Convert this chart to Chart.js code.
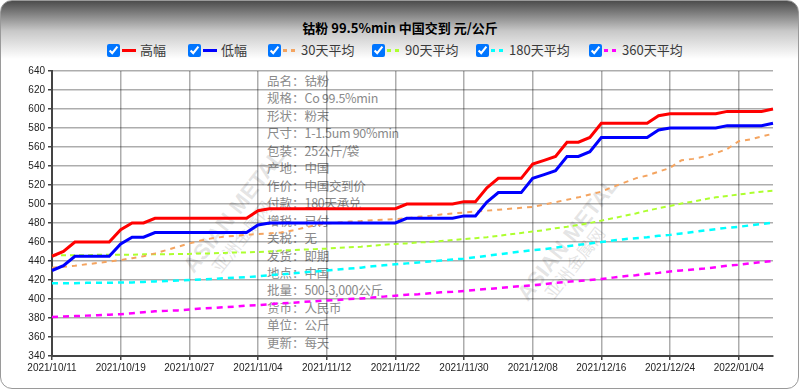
<!DOCTYPE html>
<html>
<head>
<meta charset="utf-8">
<script src="https://cdn.jsdelivr.net/npm/chart.js@4.4.1/dist/chart.umd.min.js"></script>
<style>
  html, body { margin:0; padding:0; background:#fff; }
  body { width:800px; height:390px; position:relative; overflow:hidden; font-family:"Noto Sans CJK SC", sans-serif; }
  #frame { position:absolute; left:0; top:0; width:799px; height:389px; box-sizing:border-box;
           border:1px solid #9a9a9a; border-radius:12px; overflow:hidden;
           background:linear-gradient(to bottom, #4c4c4c 0px, #c8c8c8 30px, #ffffff 58px, #ffffff 100%); }
  #title { position:absolute; left:0; width:800px; top:18px; text-align:center; font-weight:bold; font-size:13px; color:#000; line-height:20px; }
  .lg { position:absolute; top:43px; height:14px; display:flex; align-items:center; font-size:13px; color:#3a3a3a; line-height:14px; white-space:nowrap; }
  .lg input { width:13px; height:13px; margin:0 2px 0 0; accent-color:#0075ff; }
  .lg .smp { width:14px; height:3px; margin-right:4px; }
  #info { position:absolute; left:267px; top:72px; font-size:12.5px; line-height:17.45px; color:#8a8a8a; white-space:nowrap; }
  #info .v { letter-spacing:-0.3px; }
  .wm { position:absolute; color:rgba(120,120,120,0.2); font-family:"Liberation Sans", sans-serif; font-weight:bold; white-space:nowrap; transform-origin:0 0; }
  .wm2 { position:absolute; color:rgba(120,120,120,0.2); font-family:"Noto Sans CJK SC", sans-serif; white-space:nowrap; transform-origin:0 0; }
  canvas { position:absolute; left:0; top:0; }
</style>
</head>
<body>
<div id="frame"></div>
<div class="wm" style="left:178px;top:262px;font-size:22px;transform:rotate(-52deg);">ASIAN METAL</div>
<div class="wm2" style="left:205px;top:262px;font-size:17px;transform:rotate(-52deg);">亚洲金属网</div>
<div class="wm" style="left:512px;top:290px;font-size:22px;transform:rotate(-52deg);">ASIAN METAL</div>
<div class="wm2" style="left:538px;top:288px;font-size:17px;transform:rotate(-52deg);">亚洲金属网</div>
<div id="title">钴粉 99.5%min 中国交到 元/公斤</div>
<div id="legend"></div>
<div id="info"></div>
<canvas id="c" width="800" height="390"></canvas>
<script>
// ---- data ----
const dates = [
 "2021/10/11","2021/10/12","2021/10/13","2021/10/14","2021/10/15","2021/10/18","2021/10/19","2021/10/20","2021/10/21","2021/10/22",
 "2021/10/25","2021/10/26","2021/10/27","2021/10/28","2021/10/29","2021/11/01","2021/11/02","2021/11/03","2021/11/04","2021/11/05",
 "2021/11/08","2021/11/09","2021/11/10","2021/11/11","2021/11/12","2021/11/15","2021/11/16","2021/11/17","2021/11/18","2021/11/19",
 "2021/11/22","2021/11/23","2021/11/24","2021/11/25","2021/11/26","2021/11/29","2021/11/30","2021/12/01","2021/12/02","2021/12/03",
 "2021/12/06","2021/12/07","2021/12/08","2021/12/09","2021/12/10","2021/12/13","2021/12/14","2021/12/15","2021/12/16","2021/12/17",
 "2021/12/20","2021/12/21","2021/12/22","2021/12/23","2021/12/24","2021/12/27","2021/12/28","2021/12/29","2021/12/30","2021/12/31",
 "2022/01/04","2022/01/05","2022/01/06","2022/01/07"
];
const high = [
 445,450,460,460,460,460,473,480,480,485,
 485,485,485,485,485,485,485,485,493,495,
 495,495,495,495,495,495,495,495,495,495,
 495,500,500,500,500,500,502.5,502.5,517,527,
 527,527,542,546,550,565,565,570,585,585,
 585,585,585,593,595,595,595,595,595,597.5,
 597.5,597.5,597.5,600
];
const low = [
 430,435,445,445,445,445,458,465,465,470,
 470,470,470,470,470,470,470,470,478,480,
 480,480,480,480,480,480,480,480,480,480,
 480,485,485,485,485,485,487.5,487.5,502,512,
 512,512,527,531,535,550,550,555,570,570,
 570,570,570,578,580,580,580,580,580,582.5,
 582.5,582.5,582.5,585
];
const avg30 = [
 433,434,435,436.5,438,439.5,441,443,445,448,
 451.5,455,458.5,461.5,464,465.5,466.5,467.5,468.5,469,
 470,472,475,477.5,479.5,480.5,481.5,482,483,483.5,
 484,485,486.5,487.5,489,490,491,492,493,494,
 495,496,497,499.5,502,504.5,507,510,513,518,
 522.5,527,530,534,538,546,547.5,550,553.5,558,
 566,568,571,574
];
const avg90 = [
 446,446,446,446,446.5,446.5,446.5,446.5,447,447,
 447,447.5,447.5,448,448,448.5,449,449,449.5,450,
 451,451.5,452,452.5,453,454,454.5,455,456,457,
 458,458.5,459.5,460,461,462,463,464,465,466.5,
 468,469.5,471,472.5,474.5,476,478,480,482.5,485,
 487.5,490,493,495.5,498,500.5,502.5,505,507,508.5,
 510,511.5,513,514
];
const avg180 = [
 416.5,416.5,416.5,417,417,417,417.5,417.5,418,418.5,
 419,419.5,420,420.5,421,422,422.5,423,424,425,
 426,427,428,429,430,431,432,433,434.5,435.5,
 436.5,437.5,438.5,439.5,440.5,441.5,442.5,444,445.5,447,
 448.5,450,451.5,452.5,454,455.5,457,458.5,460,461.5,
 463,464,465,466.5,467.5,469,470.5,472,473.5,475,
 476,477.5,479,480.5
];
const avg360 = [
 381,381.5,382,382.5,383,383.5,384,385,386,387,
 387.5,388,389,390,390.5,391.5,392,393,393.5,394.5,
 395.5,396,397,397.5,398.5,399,400,400.5,401.5,402.5,
 403.5,404.5,405,406,407,407.5,408.5,409.5,410.5,411.5,
 412.5,413.5,414.5,415.5,417,418,419,420,421,422.5,
 424,425,426.5,427.5,429,430,431,432,433.5,435,
 436,437.5,439,440
];
const seriesNames = ["高幅","低幅","30天平均","90天平均","180天平均","360天平均"];
const seriesColors = ["#ff0000","#0000ff","#f4a460","#adff2f","#00ffff","#ff00ff"];
const infoLabels = ["品名","规格","形状","尺寸","包装","产地","作价","付款","增税","关税","发货","地点","批量","货币","单位","更新"];
const infoValues = ["钴粉","Co 99.5%min","粉末","1-1.5um 90%min","25公斤/袋","中国","中国交到价","180天承兑","已付","无","即期","中国","500-3,000公斤","人民币","公斤","每天"];
const yMin = 340, yMax = 640, yStep = 20;
const tickEvery = 6;

// ---- legend (HTML) ----
const legendLeft = [107, 188, 268, 372, 476, 589];
const legendEl = document.getElementById('legend');
seriesNames.forEach((n, i) => {
  const d = document.createElement('div');
  d.className = 'lg';
  d.style.left = legendLeft[i] + 'px';
  const cb = document.createElement('input'); cb.type = 'checkbox'; cb.checked = true;
  const s = document.createElement('span'); s.className = 'smp';
  if (i < 2) s.style.background = seriesColors[i];
  else s.style.background = `repeating-linear-gradient(to right, ${seriesColors[i]} 0 4px, transparent 4px 8px)`;
  const t = document.createElement('span'); t.textContent = n;
  d.appendChild(cb); d.appendChild(s); d.appendChild(t);
  legendEl.appendChild(d);
});
// ---- info text ----
const infoEl = document.getElementById('info');
infoLabels.forEach((l, i) => {
  const r = document.createElement('div');
  const a = document.createElement('span'); a.textContent = l + '：';
  const b = document.createElement('span'); b.className = 'v'; b.textContent = infoValues[i];
  r.appendChild(a); r.appendChild(b);
  infoEl.appendChild(r);
});

// ---- chart ----
const dashed = [
  {dash:[5,5], w:2},
  {dash:[5,4], w:2},
  {dash:[6,5], w:2.5},
  {dash:[6,5], w:2.5}
];
const allData = [high, low, avg30, avg90, avg180, avg360];
const datasets = allData.map((d, i) => ({
  label: seriesNames[i],
  data: d,
  borderColor: seriesColors[i],
  backgroundColor: seriesColors[i],
  borderWidth: i < 2 ? 3 : dashed[i-2].w,
  borderDash: i < 2 ? [] : dashed[i-2].dash,
  pointRadius: 0,
  tension: 0,
  fill: false
}));

new Chart(document.getElementById('c'), {
  type: 'line',
  data: { labels: dates, datasets },
  options: {
    responsive: false,
    animation: false,
    devicePixelRatio: 1,
    layout: { padding: { top: 71, right: 27, left: 0, bottom: 0 } },
    plugins: { legend: { display: false }, title: { display: false }, tooltip: { enabled: false } },
    scales: {
      x: {
        type: 'category',
        offset: false,
        grid: { color: 'rgba(0,0,0,0.32)', lineWidth: 1.5, drawTicks: true, tickLength: 4, tickColor: '#444' },
        border: { color: '#444', width: 2 },
        ticks: { autoSkip: false, maxRotation: 0, minRotation: 0, padding: 2, color: '#222',
                 font: { family: 'Liberation Sans', size: 10 } },
        afterBuildTicks: (s) => { s.ticks = s.ticks.filter(t => t.value % tickEvery === 0); },
        afterFit: (s) => { s.height = 34; }
      },
      y: {
        min: yMin, max: yMax,
        grid: { color: 'rgba(0,0,0,0.32)', lineWidth: 1.5, drawTicks: true, tickLength: 4, tickColor: '#444' },
        border: { color: '#444', width: 2 },
        ticks: { stepSize: yStep, padding: 3, color: '#222', font: { family: 'Liberation Sans', size: 10 } },
        afterFit: (s) => { s.width = 52; }
      }
    }
  }
});
</script>
</body>
</html>
